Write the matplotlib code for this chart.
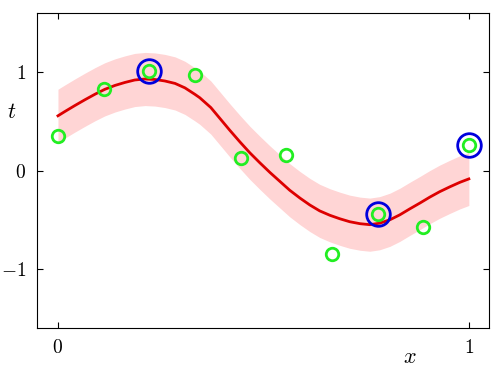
import matplotlib
matplotlib.use("Agg")
import matplotlib.pyplot as plt
import numpy as np

plt.rcParams['mathtext.fontset'] = 'cm'
plt.rcParams['font.family'] = 'DejaVu Serif'

# observed data points
x_data = [0.0, 1/9, 2/9, 3/9, 4/9, 5/9, 6/9, 7/9, 8/9, 1.0]
t_data = [0.35, 0.83, 1.01, 0.97, 0.13, 0.16, -0.85, -0.44, -0.57, 0.26]

# relevance vectors (indices into the data)
rv_idx = [2, 7, 9]

# predictive mean
x_mean = [0.0, 0.017, 0.041, 0.066, 0.090, 0.114, 0.139, 0.163, 0.187, 0.212,
          0.236, 0.260, 0.285, 0.309, 0.333, 0.345, 0.372, 0.394, 0.418, 0.443,
          0.467, 0.491, 0.516, 0.540, 0.564, 0.589, 0.613, 0.637, 0.662, 0.686,
          0.710, 0.735, 0.759, 0.783, 0.808, 0.832, 0.856, 0.881, 0.905, 0.929,
          0.954, 0.978, 1.0]
t_mean = [0.556, 0.60, 0.66, 0.72, 0.775, 0.825, 0.865, 0.895, 0.92, 0.93,
          0.925, 0.91, 0.885, 0.84, 0.775, 0.74, 0.64, 0.53, 0.41, 0.29,
          0.18, 0.08, -0.02, -0.11, -0.20, -0.28, -0.35, -0.41, -0.455, -0.49,
          -0.52, -0.54, -0.55, -0.535, -0.50, -0.45, -0.39, -0.33, -0.27, -0.215,
          -0.165, -0.12, -0.085]
sigma = 0.27

x_mean = np.array(x_mean)
t_mean = np.array(t_mean)

fig = plt.figure(figsize=(5, 3.73), dpi=100)
ax = fig.add_axes([0.074, 0.1206, 0.904, 0.8444])

ax.fill_between(x_mean, t_mean - sigma, t_mean + sigma, color='#ffd5d5', lw=0)
ax.plot(x_mean, t_mean, color='#dd0000', lw=2)
ax.plot([x_data[i] for i in rv_idx], [t_data[i] for i in rv_idx], 'o',
        ms=17, mfc='none', mec='#0000dd', mew=2)
ax.plot(x_data, t_data, 'o', ms=9, mfc='none', mec='#22ee22', mew=2)

ax.set_xlim(-0.051, 1.049)
ax.set_ylim(-1.6, 1.6)
ax.set_xticks([0, 1])
ax.set_xticklabels(['$0$', '$1$'], fontsize=14)
ax.set_yticks([-1, 0, 1])
ax.set_yticklabels(['$-1$', '$0$', '$1$'], fontsize=14)
ax.tick_params(direction='in', length=4, top=True, right=True, pad=8)

ax.text(-0.055, 0.686, '$t$', transform=ax.transAxes, fontsize=16,
        ha='center', va='center')
ax.text(0.825, -0.092, '$x$', transform=ax.transAxes, fontsize=16,
        ha='center', va='center')

plt.savefig("out.png", dpi=100)
plt.close()
